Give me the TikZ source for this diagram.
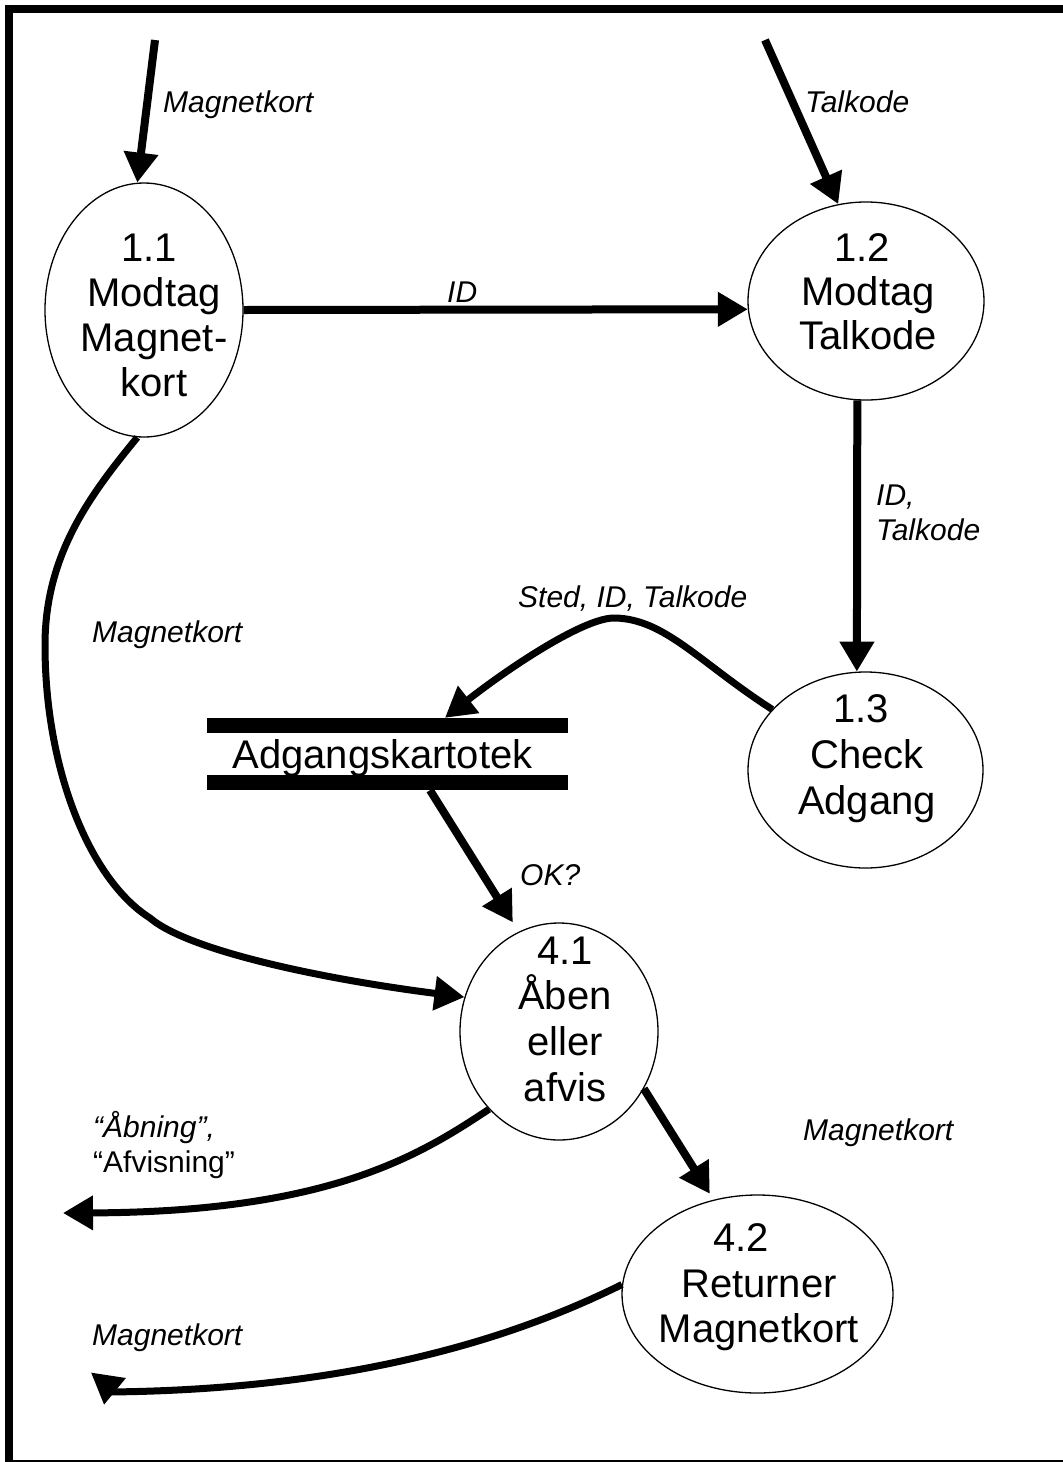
\documentclass[tikz,border=0pt]{standalone}
\usepackage{fontspec}
\setmainfont{Liberation Sans}
\usetikzlibrary{arrows.meta,shapes.geometric}

\begin{document}
\begin{tikzpicture}[x=1pt,y=-1pt,
  proc/.style={draw, ellipse, line width=1.3pt, inner sep=0pt},
  ptext/.style={align=center, inner sep=0pt},
  flowlabel/.style={anchor=base west, inner sep=0pt, font=\fontsize{30}{35}\selectfont\itshape},
  flow/.style={line width=8pt, -{Triangle[length=30pt,width=33pt]}},
  cflow/.style={line width=7pt, -{Triangle[length=30pt,width=33pt]}},
  storebar/.style={fill=black},
]
\useasboundingbox (0,0) rectangle (1063,1462);
\clip (0,0) rectangle (1063,1462);

% outer frame
\draw[line width=8pt] (9,9) rectangle (1080,1464);

% processes
\node[proc, minimum width=198pt, minimum height=254pt] (p11) at (144,310) {};
\node[proc, minimum width=236pt, minimum height=198pt] (p12) at (866,301) {};
\node[proc, minimum width=235pt, minimum height=196pt] (p13) at (865.5,770) {};
\node[proc, minimum width=198pt, minimum height=217pt] (p41) at (559,1031.5) {};
\node[proc, minimum width=271pt, minimum height=198pt] (p42) at (757.5,1294) {};

\node[ptext, font=\fontsize{40}{45}\selectfont] (t11) at (154,315.2)
  {1.1\hspace*{10pt}\\Modtag\\Magnet-\\kort};
\node[ptext, font=\fontsize{40}{44}\selectfont] (t12) at (868,291.7)
  {1.2\hspace*{12pt}\\Modtag\\Talkode};
\node[ptext, font=\fontsize{40}{46}\selectfont] (t13) at (867,758.9)
  {1.3\hspace*{12pt}\\Check\\Adgang};
\node[ptext, font=\fontsize{40}{45.7}\selectfont] (t41) at (565,1019.2)
  {4.1\\Åben\\eller\\afvis};
\node[ptext, font=\fontsize{40}{45.5}\selectfont] (t42) at (759,1287.4)
  {4.2\hspace*{36pt}\\Returner\\Magnetkort};

% data store
\node[minimum width=361pt, minimum height=72pt, inner sep=0pt] (store) at (387.5,754) {};
\fill[storebar] (store.north west) rectangle ([yshift=-15pt]store.north east);
\fill[storebar] (store.south west) rectangle ([yshift=15pt]store.south east);
\node[ptext, anchor=base, font=\fontsize{40}{45}\selectfont] (storetext) at (382.5,768) {Adgangskartotek};

% external ends
\coordinate (in1) at (155,40);
\coordinate (in2) at (765,40);
\coordinate (outA) at (63,1213);
\coordinate (outB) at (104,1405);

% flows
\draw[flow] (in1) -- (p11.93);
\draw[flow] (in2) -- (p12.106);
\draw[flow] (p11.east) -- (p12.184);
\draw[flow] (p12.265) -- (p13.95);
\draw[cflow] (p13.147) .. controls (700,663) and (665,619) .. (615,618)
  .. controls (585,617) and (510,667) .. ([xshift=57.5pt]store.north);
\draw[flow, shorten >=11pt] ([xshift=42.5pt]store.south) -- (p41.112);
\draw[cflow] (p11.267) .. controls (90,495) and (45,555) .. (45,645)
  .. controls (45,770) and (90,880) .. (150,918)
  .. controls (190,952) and (330,980) .. (p41.160);
\draw[flow, shorten >=7pt] (p41.326) -- (p42.115);
\draw[cflow] (p41.228) .. controls (420,1155) and (330,1212) .. (outA);
\draw[cflow] (p42.176) .. controls (540,1325) and (380,1390) .. (106,1392) -- (outB);

% flow labels
\node[flowlabel] (l1) at (163,112) {Magnetkort};
\node[flowlabel] (l2) at (805,112) {Talkode};
\node[flowlabel] (l3) at (447,302) {ID};
\node[flowlabel, anchor=north west, align=left] (l4) at (876,484.4) {ID,\\Talkode};
\node[flowlabel] (l5) at (518,607) {Sted, ID, Talkode};
\node[flowlabel] (l6) at (92,642) {Magnetkort};
\node[flowlabel] (l7) at (520,885) {OK?};
\node[flowlabel] (l8) at (803,1140) {Magnetkort};
\node[flowlabel, anchor=north west, align=left] (l9) at (93,1111)
  {“Åbning”,\\\upshape “Afvisning”};
\node[flowlabel] (l10) at (92,1345) {Magnetkort};
\end{tikzpicture}
\end{document}
